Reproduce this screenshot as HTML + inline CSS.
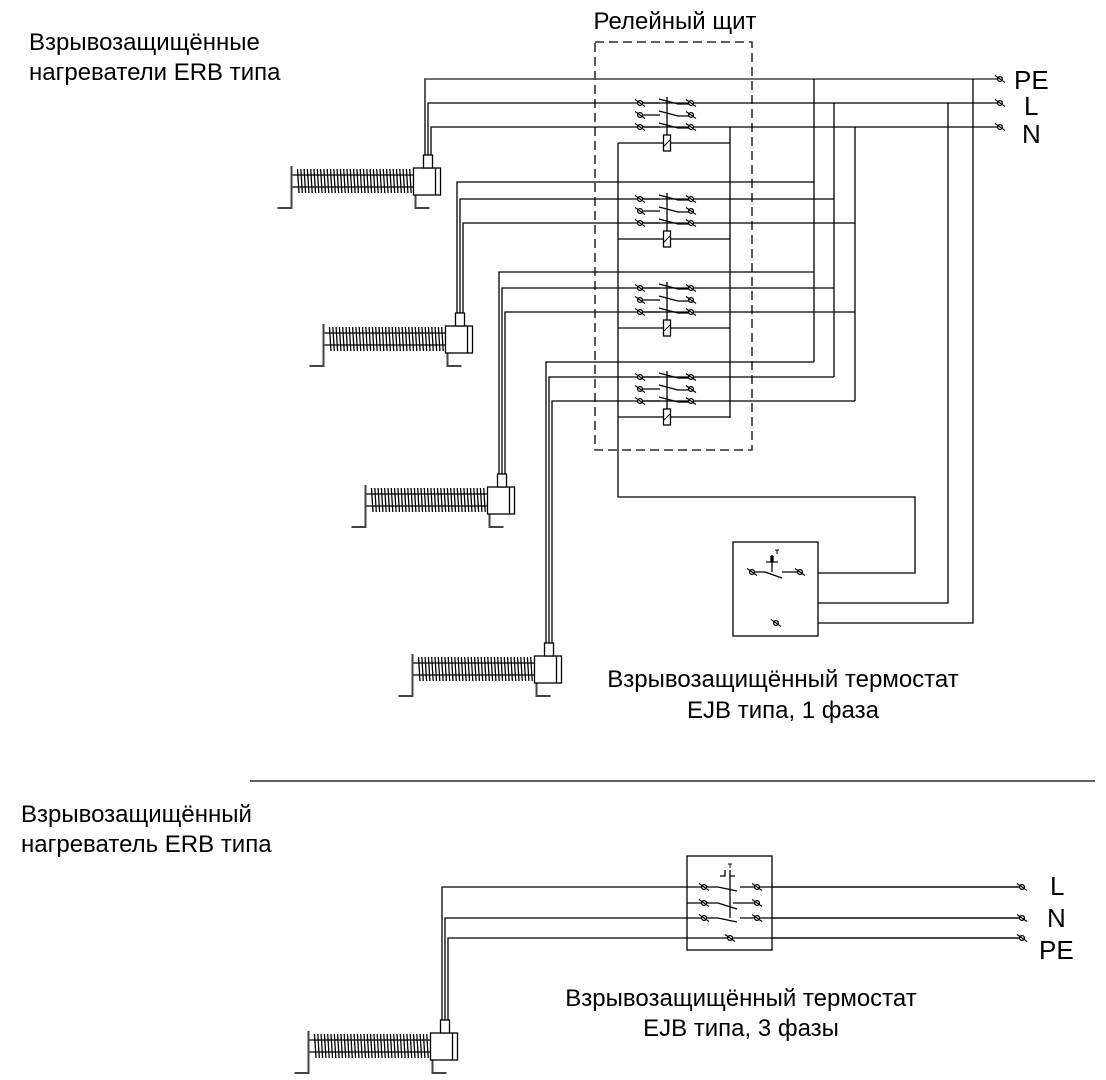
<!DOCTYPE html>
<html><head><meta charset="utf-8"><style>
html,body{margin:0;padding:0;background:#fff;}
svg{display:block;}
text{font-family:"Liberation Sans",Arial,sans-serif;fill:#000;}
</style></head><body>
<svg id="s" width="1106" height="1080" viewBox="0 0 1106 1080" xmlns="http://www.w3.org/2000/svg">
<g id="g" stroke="#000" stroke-width="1.3" fill="none"></g>
<text x="29" y="50" font-size="24">Взрывозащищённые</text>
<text x="29" y="80" font-size="24">нагреватели ERB типа</text>
<text x="675" y="29" font-size="24" text-anchor="middle">Релейный щит</text>
<text x="1014" y="89" font-size="26">PE</text>
<text x="1024" y="115" font-size="26">L</text>
<text x="1022" y="143" font-size="26">N</text>
<text x="783" y="687" font-size="24" text-anchor="middle">Взрывозащищённый термостат</text>
<text x="783" y="718" font-size="24" text-anchor="middle">EJB типа, 1 фаза</text>
<text x="21" y="822" font-size="24">Взрывозащищённый</text>
<text x="21" y="852" font-size="24">нагреватель ERB типа</text>
<text x="741" y="1006" font-size="24" text-anchor="middle">Взрывозащищённый термостат</text>
<text x="741" y="1036" font-size="24" text-anchor="middle">EJB типа, 3 фазы</text>
<text x="1050" y="895" font-size="26">L</text>
<text x="1047" y="927" font-size="26">N</text>
<text x="1039" y="959" font-size="26">PE</text>
</svg>
<script>
var g=document.getElementById('g'),NS='http://www.w3.org/2000/svg';
function el(t,a){var e=document.createElementNS(NS,t);for(var k in a)e.setAttribute(k,a[k]);g.appendChild(e);return e;}
function L(x1,y1,x2,y2,w,c){el('line',{x1:x1,y1:y1,x2:x2,y2:y2,'stroke-width':w||1.3,stroke:c||'#000'});}
function P(d,w,c){el('path',{d:d,'stroke-width':w||1.3,stroke:c||'#000'});}
function R(x,y,w,h){el('rect',{x:x,y:y,width:w,height:h,fill:'#fff'});}
function T(x,y){el('circle',{cx:x,cy:y,r:2.4,fill:'#fff'});L(x-5,y-3.5,x+5,y+3.5,1.1);}
function heater(bx,by){
 var rl=bx-122;
 L(rl,by+7,bx,by+7);L(rl,by+19,bx,by+19);
 for(var x=rl+6;x<bx-3;x+=3.3){L(x,by+1,x+1.5,by+25,1.3);}
 P('M'+rl+' '+(by-2)+' V'+(by+40)+' H'+(rl-14),2,'#444');
 P('M'+(bx+2)+' '+(by+12)+' V'+(by+40)+' H'+(bx+16),2,'#444');
 R(bx,by,27,27);L(bx+22,by,bx+22,by+27);
 R(bx+10,by-13,9,13);
}
function wires(xm,yTop,rows,xEnds,by){
 for(var i=0;i<3;i++){var x=xm-3+3*i;P('M'+x+' '+(by-13)+' V'+rows[i]+' H'+xEnds[i]);}
}
function relay(Ly){
 var ys=[Ly,Ly+12,Ly+24],cy=Ly+40;
 for(var i=0;i<3;i++){var y=ys[i];
  L(640,y,660,y);P('M659 '+(y-4)+' L678 '+(y+1)+' H690');T(640,y);T(691,y);}
 L(667,Ly-6,667,cy-8);
 R(663.5,cy-8,7,16);L(664,cy+3,670,cy-3,1);
 L(618,cy,663.5,cy);L(670.5,cy,730,cy);
}
el('rect',{x:595,y:42,width:157,height:408,'stroke-dasharray':'9,5'});
var H=[[428,168,[79,103,127],[1000,1000,1000]],[460,326,[182,199,223],[814,834,855]],[502,487,[272,288,312],[814,834,855]],[549,656,[362,377,401],[814,834,855]]];
H.forEach(function(h){wires(h[0],0,h[2],h[3],h[1]);});
L(424,79,1000,79,1.6,'#555');
[103,199,288,377].forEach(relay);
P('M618 143 V497 H915 V573 H800');
L(730,127,730,418);
L(814,79,814,362);L(834,103,834,377);L(855,127,855,401);
P('M948 103 V603 H752 V572');P('M973 79 V623 H776');
T(1000,79);T(1000,103);T(1000,127);
R(733,542,85,94);
P('M755 572 H765 L782 578 M782 572 H800');L(772,555,772,572);
P('M766 562 H771 V556 M778 562 H773 V556 M766 562 H778');
L(775,550,779,550,1);L(777,550,777,554,1);
T(752,572);T(800,572);T(776,623);
H.forEach(function(h){heater(h[0]-14.5,h[1]);});
L(250,781,1095,781,1.2);
P('M442 1020 V887 H1022');P('M445 1020 V918 H1022');P('M448 1020 V938 H1022');
R(687,856,85,94);
[887,903,918].forEach(function(y,i){
 if(i==1){P('M707 903 H718 L737 909 M733 903 H754');}
 else P('M707 '+y+' H718 L737 '+(y+4)+' M740 '+y+' H754');
 if(i!=1){L(757,y,1022,y);}
 L(687,y,704,y);
 T(704,y);T(757,y);
});
L(730,876,730,918);
P('M720 876 H725 V870 M735 876 H730 V870 M725 870 V876');
L(728,864,732,864,1);L(730,864,730,868,1);
L(687,938,1022,938);T(730,938);
T(1022,887);T(1022,918);T(1022,938);
heater(430.5,1033);
</script>
</body></html>
